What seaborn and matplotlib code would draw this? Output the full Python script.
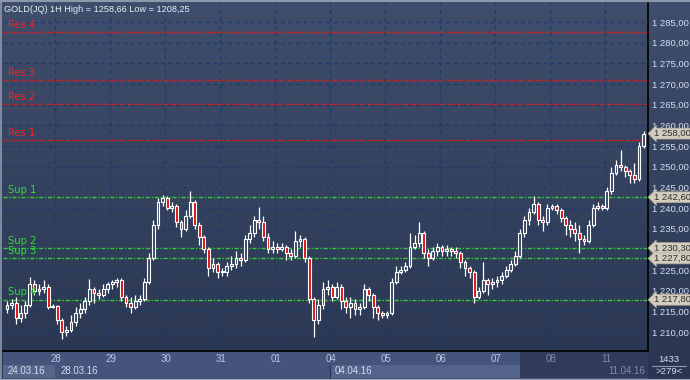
import numpy as np
import pandas as pd
import matplotlib
matplotlib.use("Agg")
import matplotlib.pyplot as plt
from matplotlib.colors import LinearSegmentedColormap
from matplotlib.lines import Line2D
from matplotlib.patches import Rectangle
import seaborn as sns

# ---- chart data ----
first_open = 1215.5
closes = [
    1216.5, 1217.0, 1213.5, 1214.5, 1216.5, 1221.5, 1220.0, 1220.5, 1221.0, 1216.0,
    1216.3, 1213.0, 1210.0, 1210.5, 1212.5, 1214.5, 1215.5, 1217.5, 1220.5, 1219.5,
    1219.0, 1220.5, 1221.5, 1222.0, 1222.5, 1218.5, 1217.0, 1216.0, 1217.5, 1218.0,
    1222.0, 1228.0, 1236.0, 1241.5, 1242.5, 1240.0, 1240.5, 1236.5, 1235.0, 1238.0,
    1241.5, 1236.0, 1233.0, 1230.0, 1225.5, 1226.5, 1224.5, 1224.5, 1226.0, 1226.5,
    1228.0, 1227.5, 1232.5, 1234.0, 1237.0, 1236.5, 1233.0, 1230.0, 1230.5, 1230.0,
    1230.5, 1229.0, 1228.5, 1232.0, 1232.5, 1228.0, 1218.0, 1213.0, 1216.5, 1220.5,
    1221.0, 1218.5, 1221.0, 1217.5, 1216.0, 1217.0, 1215.5, 1216.0, 1220.5, 1219.0,
    1216.0, 1214.5, 1214.0, 1214.5, 1222.0, 1224.5, 1225.0, 1226.0, 1230.5, 1231.5,
    1234.0, 1229.0, 1228.0, 1229.5, 1230.5, 1229.5, 1230.0, 1229.5, 1229.0, 1227.0,
    1225.5, 1224.5, 1218.5, 1220.0, 1222.5, 1221.5, 1222.0, 1222.5, 1223.5, 1225.0,
    1226.5, 1228.5, 1234.0, 1237.0, 1239.0, 1241.0, 1237.0, 1236.5, 1240.0, 1240.5,
    1239.5, 1237.5, 1236.0, 1235.0, 1234.0, 1232.5, 1232.0, 1236.0, 1240.0, 1240.5,
    1240.0, 1244.0, 1248.5, 1250.5, 1250.0, 1249.0, 1248.0, 1247.0, 1255.0, 1258.0,
]
highs = [
    1217.5, 1218.0, 1218.5, 1216.5, 1217.5, 1223.3, 1222.5, 1221.5, 1222.5, 1221.5,
    1216.8, 1216.5, 1213.5, 1211.5, 1214.0, 1216.0, 1217.0, 1218.5, 1222.8, 1221.0,
    1220.5, 1221.5, 1222.0, 1222.5, 1223.0, 1223.0, 1219.0, 1218.5, 1219.0, 1219.0,
    1223.0, 1229.0, 1237.0, 1242.5, 1243.2, 1243.0, 1241.5, 1241.0, 1237.0, 1239.5,
    1244.0, 1242.0, 1236.5, 1233.5, 1230.5, 1228.0, 1227.0, 1225.5, 1227.0, 1228.5,
    1229.5, 1229.0, 1233.5, 1236.0, 1238.0, 1240.2, 1238.0, 1234.0, 1232.0, 1231.5,
    1231.5, 1231.0, 1230.0, 1234.5, 1233.5, 1233.0, 1228.5, 1218.5, 1218.0, 1222.0,
    1222.5, 1221.5, 1222.0, 1221.5, 1218.5, 1218.5, 1218.0, 1217.0, 1221.5, 1221.0,
    1219.5, 1216.5, 1215.0, 1215.0, 1223.0, 1226.0, 1226.0, 1227.0, 1234.0, 1233.5,
    1236.6, 1234.5, 1230.0, 1230.5, 1231.5, 1231.0, 1231.0, 1230.5, 1230.5, 1229.5,
    1227.5, 1226.0, 1225.0, 1221.0, 1227.0, 1223.0, 1223.0, 1223.5, 1224.5, 1226.0,
    1227.5, 1229.5, 1235.0, 1238.0, 1240.0, 1243.0, 1241.5, 1238.0, 1241.0, 1241.0,
    1241.0, 1240.0, 1238.0, 1237.0, 1236.5, 1236.0, 1233.5, 1237.0, 1241.0, 1241.5,
    1241.0, 1245.0, 1250.0, 1251.5, 1254.0, 1250.5, 1249.5, 1251.0, 1256.0, 1258.66,
]
lows = [
    1214.5, 1215.5, 1212.0, 1212.5, 1213.5, 1216.0, 1219.0, 1219.0, 1219.5, 1215.5,
    1215.8, 1212.0, 1208.25, 1209.0, 1210.0, 1211.5, 1213.5, 1214.5, 1216.5, 1217.0,
    1218.0, 1218.5, 1219.5, 1220.5, 1221.0, 1217.5, 1216.0, 1214.5, 1215.5, 1216.5,
    1217.5, 1221.5, 1227.5, 1235.0, 1240.5, 1239.5, 1239.0, 1235.5, 1233.0, 1234.5,
    1237.5, 1235.0, 1231.0, 1229.0, 1223.5, 1224.5, 1223.0, 1223.5, 1223.5, 1225.0,
    1225.5, 1226.0, 1227.0, 1231.5, 1233.0, 1235.0, 1232.0, 1229.0, 1229.0, 1229.0,
    1229.5, 1227.5, 1227.5, 1228.0, 1230.5, 1227.0, 1217.0, 1208.8, 1212.0, 1215.5,
    1219.0, 1217.5, 1218.0, 1215.5, 1214.5, 1213.5, 1214.0, 1214.0, 1215.5, 1217.5,
    1213.5, 1213.0, 1213.5, 1213.5, 1214.0, 1221.5, 1224.0, 1224.5, 1225.5, 1230.0,
    1230.5, 1228.0, 1226.0, 1227.5, 1228.5, 1228.5, 1228.5, 1228.5, 1228.0, 1225.5,
    1223.5, 1223.0, 1217.0, 1218.0, 1219.5, 1219.0, 1220.5, 1221.0, 1221.5, 1223.0,
    1224.5, 1226.0, 1228.0, 1233.0, 1236.0, 1238.5, 1236.0, 1234.5, 1236.0, 1239.5,
    1238.5, 1236.5, 1233.5, 1233.0, 1232.0, 1229.0, 1231.0, 1231.5, 1235.5, 1239.5,
    1239.5, 1239.5, 1243.5, 1248.0, 1249.0, 1247.5, 1246.0, 1246.0, 1246.5, 1254.5,
]
day_labels = ["28", "29", "30", "31", "01", "04", "05", "06", "07", "08", "11"]
bars_per_day = 12
first_day_bar = 11

res_names = ["Res 1", "Res 2", "Res 3", "Res 4"]
res_levels = [1256.4, 1265.1, 1270.9, 1282.5]
sup_names = ["Sup 1", "Sup 2", "Sup 3", "Sup 4"]
sup_levels = [1242.6, 1230.3, 1227.8, 1217.8]
last_price = 1258.00
price_ticks = list(range(1210, 1290, 5))

title = "GOLD(JQ) 1H High = 1258,66 Low = 1208,25"


def fmt_price(v):
    return f"{v:,.2f}".replace(",", " ").replace(".", ",")


# ---- style ----
sns.set_theme(style="dark", rc={
    "axes.edgecolor": "black",
    "text.color": "#d2def2",
    "xtick.color": "#d2def2",
    "ytick.color": "#d2def2",
})
plt.rcParams["font.family"] = ["Liberation Sans", "DejaVu Sans"]

df = pd.DataFrame({"close": closes, "high": highs, "low": lows})
df["open"] = [first_open] + closes[:-1]
df["bar"] = np.arange(len(df))
df["up"] = df["close"] >= df["open"]
df["top"] = df[["open", "close"]].max(axis=1)
df["bottom"] = df[["open", "close"]].min(axis=1)
df["body"] = (df["top"] - df["bottom"]).clip(lower=0.2)

W, H = 690, 380
fig = plt.figure(figsize=(W / 100, H / 100), dpi=100)

# gradient background for the whole window
bg = fig.add_axes([0, 0, 1, 1], zorder=-5)
cmap = LinearSegmentedColormap.from_list("bg", ["#2a3651", "#3f4e6c"])
bg.imshow(np.linspace(0, 1, 256).reshape(-1, 1), aspect="auto", cmap=cmap,
          origin="lower", extent=[0, 1, 0, 1])
bg.set_axis_off()

# main price panel
x_lo, x_hi = -0.86, 139.97
y_lo, y_hi = 1205.4, 1289.6
ax = fig.add_axes([3 / W, 29 / H, 645 / W, 348 / H])
ax.patch.set_alpha(0)
ax.set_xlim(x_lo, x_hi)
ax.set_ylim(y_lo, y_hi)

day_starts = [first_day_bar - 0.5 + bars_per_day * k for k in range(len(day_labels))]
grid_kw = dict(color="#1c3a6b", lw=0.9, ls=(0, (3, 3)), zorder=1)
for xd in day_starts:
    ax.axvline(xd, **grid_kw)
for yp in price_ticks:
    ax.axhline(yp, **grid_kw)

lvl_font = ["DejaVu Sans", "Liberation Sans"]
for name, lvl in zip(res_names, res_levels):
    ax.axhline(lvl, color="#d81c1c", lw=1.0, ls=(0, (3, 1.2, 1, 1.2)), zorder=2)
    ax.text(0.008, lvl + 0.6, name, transform=ax.get_yaxis_transform(), family=lvl_font,
            color="#ff1e1e", fontsize=7.2, va="bottom", ha="left", zorder=5)
for name, lvl in zip(sup_names, sup_levels):
    ax.axhline(lvl, color="#33cc33", lw=1.0, ls=(0, (3, 1.2, 1, 1.2)), zorder=2)
    ax.text(0.008, lvl + 0.6, name, transform=ax.get_yaxis_transform(), family=lvl_font,
            color="#2ee02e", fontsize=7.2, va="bottom", ha="left", zorder=5)

# candles
ax.vlines(df["bar"], df["top"], df["high"], color="white", lw=0.9, zorder=3)
ax.vlines(df["bar"], df["low"], df["bottom"], color="white", lw=0.9, zorder=3)
face = np.where(df["up"], "#3a4866", "#e01010")
ax.bar(df["bar"], df["body"], bottom=df["bottom"], width=0.62, color=face,
       edgecolor="white", linewidth=0.8, zorder=4)

ax.yaxis.tick_right()
ax.set_yticks(price_ticks)
ax.set_yticklabels([fmt_price(v) for v in price_ticks], fontsize=6.8, color="#d2def2")
ax.tick_params(axis="y", length=0, pad=3)
ax.set_xticks([])
for side in ["top", "left"]:
    ax.spines[side].set_visible(False)
ax.spines["right"].set_color("black")
ax.spines["bottom"].set_color("black")
ax.spines["right"].set_linewidth(1.2)
ax.spines["bottom"].set_linewidth(1.2)

# price tags on the right scale
tag_prices = [last_price] + sup_levels
for p in tag_prices:
    ax.annotate(fmt_price(p), xy=(1.009, p), xycoords=("axes fraction", "data"),
                ha="left", va="center", fontsize=6.8, color="#2c2c2c", zorder=8,
                annotation_clip=False,
                bbox=dict(boxstyle="larrow,pad=0.1", fc="#d3cdbf", ec="#b0a890", lw=0.5))

fig.text(4 / W, 1 - 10 / H, title, fontsize=6.6, color="#e6eef8", ha="left", va="center")

# bottom time scale
bax = fig.add_axes([3 / W, 0, 645 / W, 28 / H])
bax.set_xlim(x_lo, x_hi)
bax.set_ylim(0, 28)
bax.set_facecolor("#45547a")
bax.set_xticks([])
bax.set_yticks([])
for s in bax.spines.values():
    s.set_visible(False)
split_bar = 112.0
bax.add_patch(Rectangle((x_lo, 2), first_day_bar - 0.5 - x_lo, 13, fc="#56668a", ec="none"))
bax.add_patch(Rectangle((day_starts[5], 2), split_bar - day_starts[5], 13, fc="#53638a", ec="none"))
bax.axvline(day_starts[5], ymin=2 / 28, ymax=15 / 28, color="#2a3552", lw=1)
bax.add_patch(Rectangle((split_bar, 2), x_hi - split_bar, 26, fc="#2f3b58", ec="none", zorder=3))
for xd, lab in zip(day_starts, day_labels):
    col = "#7d8cab" if xd > split_bar else "#b9cbe8"
    bax.text(xd + 0.3, 21, lab, ha="center", va="center", fontsize=7, color=col, zorder=4)
bax.text(0.2, 8.5, "24.03.16", ha="left", va="center", fontsize=7, color="#d2def2")
bax.text(first_day_bar + 0.6, 8.5, "28.03.16", ha="left", va="center", fontsize=7, color="#d2def2")
bax.text(day_starts[5] + 1.0, 8.5, "04.04.16", ha="left", va="center", fontsize=7, color="#d2def2")
bax.text(x_hi - 0.6, 8.5, "11.04.16", ha="right", va="center", fontsize=7, color="#7d8cab", zorder=4)

# bottom-right info box
fig.text(669 / W, 1 - 359 / H, "1433", ha="center", va="center", fontsize=6.8, color="#d2def2")
fig.text(669 / W, 1 - 372 / H, ">279<", ha="center", va="center", fontsize=6.8, color="#d2def2")
fig.add_artist(Line2D([652 / W, 686 / W], [1 - 365.5 / H] * 2, color="#8e9bb4", lw=0.8))
fig.add_artist(Line2D([0, 1], [1 - 0.5 / H] * 2, color="#8e98ac", lw=1.5))
fig.add_artist(Line2D([0, 1], [1 - 379.5 / H] * 2, color="#9aa4b8", lw=1.5))
fig.add_artist(Line2D([1 / W, 1 / W], [0, 1], color="#8e98ac", lw=1.2))

fig.savefig("out.png", dpi=100, facecolor=fig.get_facecolor())
